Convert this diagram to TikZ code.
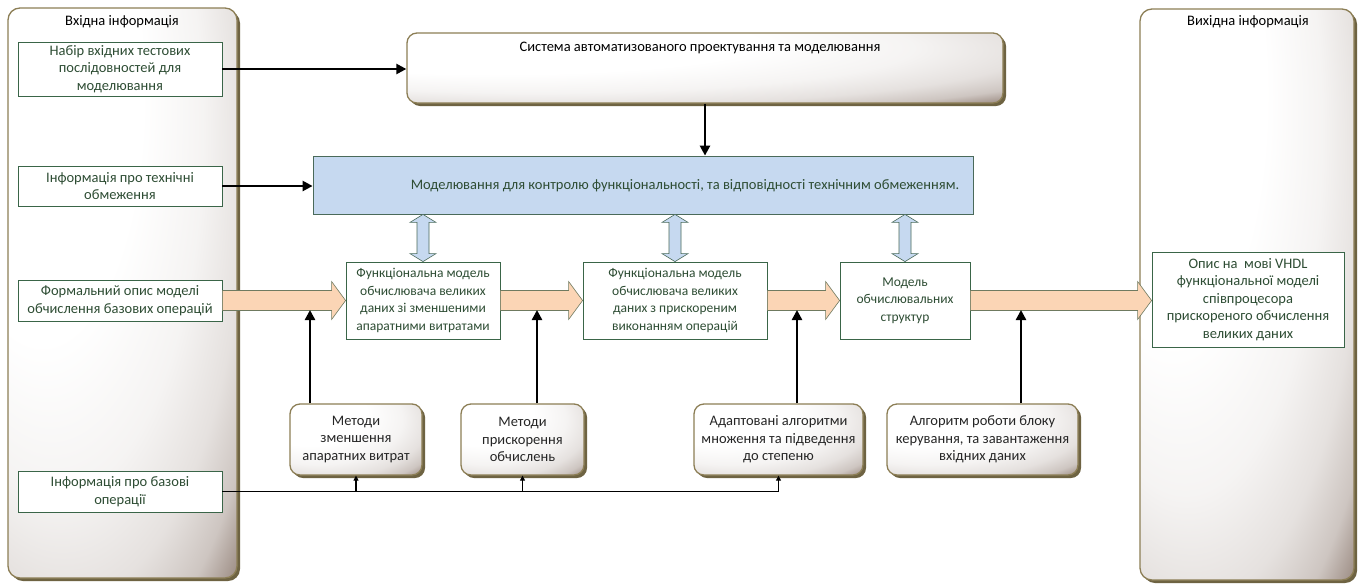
\documentclass[tikz,border=0pt]{standalone}
\usepackage{fontspec}
\setmainfont{Carlito}
\usetikzlibrary{arrows.meta,calc,shadows}

\definecolor{panelline}{HTML}{8C7E55}
\definecolor{panelshadow}{HTML}{6E6342}
\definecolor{panelgrey}{HTML}{9C8C83}
\definecolor{boxline}{HTML}{3A6548}
\definecolor{boxtext}{HTML}{2E4D34}
\definecolor{peach}{HTML}{FBD5B5}
\definecolor{peachline}{HTML}{6F7A60}
\definecolor{paleblue}{HTML}{C6D9F0}
\definecolor{blueline}{HTML}{4A6A5A}

% light corner top left, darker towards bottom right
\pgfdeclareradialshading{cornerfade}{\pgfpoint{-25bp}{25bp}}{%
  color(0bp)=(white); color(22bp)=(white); color(32bp)=(white!90!panelgrey);
  color(39bp)=(white!74!panelgrey); color(44bp)=(white!50!panelgrey);
  color(48bp)=(panelgrey); color(75bp)=(panelgrey)}

% wide arrow between two boxes
\newcommand\fatarrow[2]{%
  \path[fatarr] let \p1=(#1.east), \p2=(#2.west) in
    (\x1,\y1+10pt) -- (\x2-14pt,\y1+10pt) -- (\x2-14pt,\y1+19pt) -- (\x2,\y1)
    -- (\x2-14pt,\y1-19pt) -- (\x2-14pt,\y1-10pt) -- (\x1,\y1-10pt) -- cycle;}
% two-way arrow under the simulation box
\newcommand\dblarrow[2]{%
  \path[dblarr] let \p1=(#1.south), \p2=(#2.north) in
    (\x2,\y1) -- (\x2+13pt,\y1-8pt) -- (\x2+6pt,\y1-8pt) -- (\x2+6pt,\y2+8pt)
    -- (\x2+13pt,\y2+8pt) -- (\x2,\y2) -- (\x2-13pt,\y2+8pt) -- (\x2-6pt,\y2+8pt)
    -- (\x2-6pt,\y1-8pt) -- (\x2-13pt,\y1-8pt) -- cycle;}

\begin{document}
\begin{tikzpicture}[
    x=1pt,y=-1pt,
    txt/.style={font=\fontsize{14.5}{17.5}\selectfont,align=center,inner sep=0pt},
    small/.style={font=\fontsize{13.5}{17.5}\selectfont},
    panel/.style={txt,draw=panelline,line width=1.3pt,rounded corners=12pt,
        shading=cornerfade,shade,
        drop shadow={shadow xshift=3pt,shadow yshift=-3pt,fill=panelshadow,opacity=1}},
    rbox/.style={panel,rounded corners=10pt,text=black!85},
    gbox/.style={txt,draw=boxline,fill=white,line width=0.8pt,text=boxtext},
    bluebox/.style={draw=blueline,fill=paleblue,line width=0.8pt},
    ttl/.style={txt},
    fatarr/.style={fill=peach,draw=peachline,line width=0.6pt},
    dblarr/.style={fill=paleblue,draw=blueline,line width=0.6pt},
    bigarr/.style={line width=2.4pt,-{Triangle[length=10pt,width=10pt]}},
    smallarr/.style={line width=1.1pt,-{Triangle[length=5pt,width=5pt]}}
]
\path[use as bounding box,fill=white] (0,0) rectangle (1363,587);

% input and output panels
\node[panel,minimum width=229pt,minimum height=570pt] (inpanel) at (122.5,293) {};
\node[ttl] (intitle) at (122,22) {Вхідна інформація};
\node[panel,minimum width=214pt,minimum height=571pt] (outpanel) at (1247,294.5) {};
\node[ttl] (outtitle) at (1248,22) {Вихідна інформація};

% input data
\node[gbox,minimum width=204pt,minimum height=54pt] (nabir) at (120,69)
    {Набір вхідних тестових\\послідовностей для\\моделювання};
\node[gbox,minimum width=204pt,minimum height=40pt] (tech) at (120,186)
    {Інформація про технічні\\обмеження};
\node[gbox,minimum width=204pt,minimum height=41pt] (formal) at (120,300.5)
    {Формальний опис моделі\\обчислення базових операцій};
\node[gbox,minimum width=204pt,minimum height=41pt] (bazovi) at (120,491.5)
    {Інформація про базові\\операції};

% cad system and simulation
\node[rbox,minimum width=596pt,minimum height=70pt] (sapr) at (705,68) {};
\node[ttl] (saprtxt) at (700,48) {Система автоматизованого проектування та моделювання};
\node[bluebox,minimum width=660pt,minimum height=58pt] (model) at (643,185) {};
\node[ttl,text=boxtext] (modeltxt) at (685,186)
    {Моделювання для контролю функціональності, та відповідності технічним обмеженням.};

% models
\node[gbox,small,minimum width=154pt,minimum height=77pt] (fm1) at (423,300.5)
    {Функціональна модель\\обчислювача великих\\даних зі зменшеними\\апаратними витратами};
\node[gbox,small,minimum width=184pt,minimum height=77pt] (fm2) at (675,300.5)
    {Функціональна модель\\обчислювача великих\\даних з прискореним\\виконанням операцій};
\node[gbox,small,minimum width=130pt,minimum height=77pt] (struct) at (905,300.5)
    {Модель\\обчислювальних\\структур};
\node[gbox,minimum width=192pt,minimum height=95pt] (vhdl) at (1248,299.5)
    {Опис на\ \ мові VHDL\\функціональної моделі\\співпроцесора\\прискореного обчислення\\великих даних};

% methods
\node[rbox,minimum width=132pt,minimum height=71pt] (b1) at (356,439.5)
    {Методи\\зменшення\\апаратних витрат};
\node[rbox,minimum width=123pt,minimum height=71pt] (b2) at (522.5,439.5)
    {Методи\\прискорення\\обчислень};
\node[rbox,minimum width=169pt,minimum height=71pt] (b3) at (778.5,439.5)
    {Адаптовані алгоритми\\множення та підведення\\до степеню};
\node[rbox,minimum width=191pt,minimum height=71pt] (b4) at (982.5,439.5)
    {Алгоритм роботи блоку\\керування, та завантаження\\вхідних даних};

% main flow
\fatarrow{formal}{fm1}
\fatarrow{fm1}{fm2}
\fatarrow{fm2}{struct}
\fatarrow{struct}{vhdl}
\dblarrow{model}{fm1}
\dblarrow{model}{fm2}
\dblarrow{model}{struct}

% inputs
\draw[bigarr] (nabir.east) -- (nabir.east -| sapr.west);
\draw[bigarr] (tech.east) -- (tech.east -| model.west);
\draw[bigarr] (sapr.south) -- (sapr.south |- model.north);

% methods feed the flow
\coordinate (j1) at (310,310);
\coordinate (j2) at (537,310);
\coordinate (j3) at (797,310);
\coordinate (j4) at (1021,310);
\draw[bigarr] (b1.north -| j1) -- (j1);
\draw[bigarr] (b2.north -| j2) -- (j2);
\draw[bigarr] (b3.north -| j3) -- (j3);
\draw[bigarr] (b4.north -| j4) -- (j4);

% base operations
\draw[smallarr] (bazovi.east) -| (b3.south);
\draw[smallarr] (b1.south |- bazovi.east) -- (b1.south);
\draw[smallarr] (b2.south |- bazovi.east) -- (b2.south);

\end{tikzpicture}
\end{document}
